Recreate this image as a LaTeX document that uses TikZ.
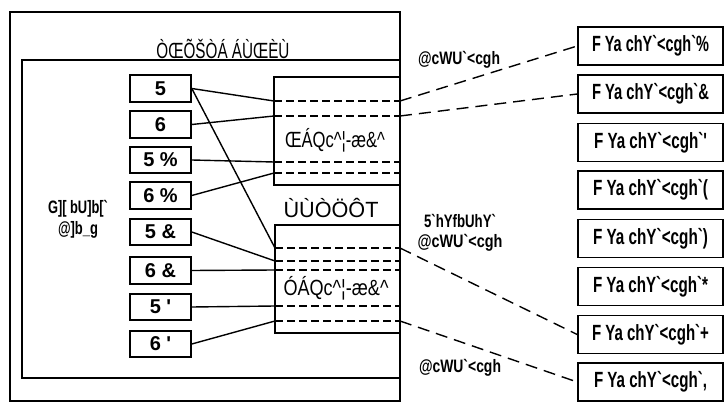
\documentclass[tikz,border=0pt]{standalone}
\usepackage{fontspec}
\setmainfont{Liberation Sans}[Ligatures=TeXOff]
\newcommand{\fitw}[2]{\resizebox{#1}{\height}{#2}}
\begin{document}
\begin{tikzpicture}[x=1pt,y=-1pt,
  frame/.style={draw, line width=1.6pt},
  lbox/.style={draw, line width=1.6pt, minimum width=61pt, minimum height=26.5pt, inner sep=0pt, font=\bfseries\fontsize{20}{20}\selectfont},
  rbox/.style={draw, line width=1.6pt, minimum width=145pt, minimum height=38pt, inner sep=0pt, font=\bfseries\fontsize{22}{22}\selectfont},
  link/.style={line width=1.4pt},
  chan/.style={line width=1.4pt, dash pattern=on 8pt off 4pt},
  remote/.style={line width=1.4pt, dash pattern=on 12pt off 7pt},
  lab/.style={inner sep=0pt, font=\bfseries\fontsize{18}{18}\selectfont},
  big/.style={inner sep=0pt, font=\fontsize{22}{22}\selectfont}]
\useasboundingbox (0,0) rectangle (725,403);
% frames
\draw[frame] (10,12) rectangle (400,401);
\draw[frame] (22,60) rectangle (400,378);
\draw[frame] (274,77) rectangle (400,185);
\draw[frame] (275,225) rectangle (400,333);
% title and big labels
\node[big] (title) at (223,49) {\fitw{133pt}{ÒŒÕŠÒÁ ÁÙŒÈÙ}};
\node[big] (as1) at (335,140) {\fitw{100pt}{ŒÁQc\textasciicircum¦-æ\&\textasciicircum}};
\node[big] (sctp) at (331,208) {\fitw{95pt}{ÙÙÒÖÔT}};
\node[big] (as2) at (336,288) {\fitw{105pt}{ÓÁQc\textasciicircum¦-æ\&\textasciicircum}};
% small labels
\node[lab] (lh1) at (459,60) {\fitw{82pt}{@cWU`<cgh}};
\node[lab, align=center] (alh) at (460,233) {\fitw{72pt}{5`hYfbUhY`}\\[2pt]\fitw{85pt}{@cWU`<cgh}};
\node[lab] (lh2) at (460,368) {\fitw{82pt}{@cWU`<cgh}};
\node[lab, align=center] (sig) at (78,219) {\fitw{60pt}{G][ bU]b[`}\\[3pt]\fitw{40pt}{@]b\_g}};
% left boxes
\node[lbox] (a1) at (160.5,88.5) {5};
\node[lbox] (a2) at (160.5,124.5) {6};
\node[lbox] (a3) at (160.5,160) {5 \%};
\node[lbox] (a4) at (160.5,195.5) {6 \%};
\node[lbox] (a5) at (160.5,232) {5 \&};
\node[lbox] (a6) at (160.5,270.5) {6 \&};
\node[lbox] (a7) at (160.5,307) {5 '};
\node[lbox] (a8) at (160.5,344) {6 '};
% right boxes
\node[rbox] (r1) at (650.5,46) {\fitw{117pt}{F Ya chY`<cgh`\%}};
\node[rbox] (r2) at (650.5,94) {\fitw{117pt}{F Ya chY`<cgh`\&}};
\node[rbox] (r3) at (650.5,142.5) {\fitw{113pt}{F Ya chY`<cgh`'}};
\node[rbox] (r4) at (650.5,190) {\fitw{115pt}{F Ya chY`<cgh`(}};
\node[rbox] (r5) at (650.5,238.5) {\fitw{115pt}{F Ya chY`<cgh`)}};
\node[rbox] (r6) at (650.5,286.5) {\fitw{115pt}{F Ya chY`<cgh`*}};
\node[rbox] (r7) at (650.5,334.5) {\fitw{117pt}{F Ya chY`<cgh`+}};
\node[rbox] (r8) at (650.5,382) {\fitw{113pt}{F Ya chY`<cgh`,}};
% attachment points on association boxes
\coordinate (u1) at (274,101); \coordinate (u1e) at (400,101);
\coordinate (u2) at (274,116); \coordinate (u2e) at (400,116);
\coordinate (u3) at (274,162); \coordinate (u3e) at (400,162);
\coordinate (u4) at (274,173); \coordinate (u4e) at (400,173);
\coordinate (l1) at (275,248); \coordinate (l1e) at (400,248);
\coordinate (l2) at (275,261); \coordinate (l2e) at (400,261);
\coordinate (l3) at (275,270); \coordinate (l3e) at (400,270);
\coordinate (l4) at (275,306); \coordinate (l4e) at (400,306);
\coordinate (l5) at (275,321); \coordinate (l5e) at (400,321);
% links
\draw[link] (a1.east) -- (u1);
\draw[link] (a1.east) -- (l1);
\draw[link] (a2.east) -- (u2);
\draw[link] (a3.east) -- (u3);
\draw[link] (a4.east) -- (u4);
\draw[link] (a5.east) -- (l2);
\draw[link] (a6.east) -- (l3);
\draw[link] (a7.east) -- (l4);
\draw[link] (a8.east) -- (l5);
% channels
\draw[chan] (u1) -- (u1e);
\draw[chan] (u2) -- (u2e);
\draw[chan] (u3) -- (u3e);
\draw[chan] (u4) -- (u4e);
\draw[chan] (l1) -- (l1e);
\draw[chan] (l2) -- (l2e);
\draw[chan] (l3) -- (l3e);
\draw[chan] (l4) -- (l4e);
\draw[chan] (l5) -- (l5e);
% remote paths
\draw[remote] (u1e) -- (r1.west);
\draw[remote] (u2e) -- (r2.west);
\draw[remote] (l1e) -- (r7.west);
\draw[remote] (l5e) -- (r8.west);
\end{tikzpicture}
\end{document}
